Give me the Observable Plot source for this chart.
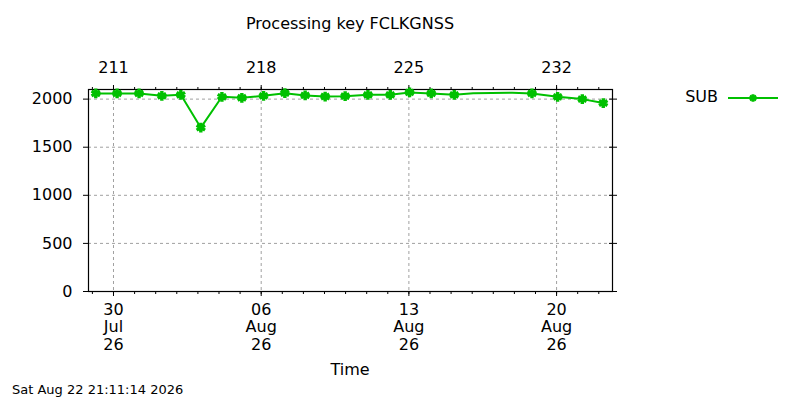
<!DOCTYPE html>
<html>
<head>
<meta charset="utf-8">
<script src="https://cdn.jsdelivr.net/npm/d3@7"></script>
<script src="https://cdn.jsdelivr.net/npm/@observablehq/plot@0.6"></script>
<style>
  body { margin: 0; background: #fff; font-family: "DejaVu Sans", sans-serif; }
  #wrap { position: relative; width: 800px; height: 400px; overflow: hidden; }
  .lbl { position: absolute; color: #000; white-space: nowrap; line-height: 1; }
</style>
</head>
<body>
<div id="wrap"></div>
<script>
// ---- data ----
const title = "Processing key FCLKGNSS";
const xLabel = "Time";
const stamp = "Sat Aug 22 21:11:14 2026";
const seriesName = "SUB";
const times = [
  "2026-07-29T03:50Z","2026-07-30T04:05Z","2026-07-31T05:05Z","2026-08-01T07:00Z",
  "2026-08-02T04:35Z","2026-08-03T03:20Z","2026-08-04T03:20Z","2026-08-05T02:00Z",
  "2026-08-06T02:40Z","2026-08-07T02:55Z","2026-08-08T02:00Z","2026-08-09T00:45Z",
  "2026-08-09T23:30Z","2026-08-11T01:25Z","2026-08-12T02:50Z","2026-08-13T00:45Z",
  "2026-08-14T01:25Z","2026-08-15T03:35Z","2026-08-16T01:10Z","2026-08-17T21:35Z",
  "2026-08-18T20:00Z","2026-08-20T01:10Z","2026-08-21T05:15Z","2026-08-22T05:05Z"
];
const values = [2059,2059,2059,2034,2045,1703,2024,2014,2034,2062,2038,2027,
                2031,2045,2045,2070,2059,2045,2060,2066,2059,2024,2000,1959];
const marked = [1,1,1,1,1,1,1,1,1,1,1,1,1,1,1,1,1,1,0,0,1,1,1,1];
const xDomain = ["2026-07-28T19:34Z", "2026-08-22T15:36Z"];
const yDomain = [0, 2100];
const yTicks = [0, 500, 1000, 1500, 2000];
const majorTicks = ["2026-07-30T00:00Z","2026-08-06T00:00Z","2026-08-13T00:00Z","2026-08-20T00:00Z"];
const topTickLabels = ["211", "218", "225", "232"];
const months = ["Jan","Feb","Mar","Apr","May","Jun","Jul","Aug","Sep","Oct","Nov","Dec"];

const color = "#00c000";
const gridColor = "#a0a0a0";
const fs = 16;

const data = times.map((t, i) => ({t: new Date(t), v: values[i], m: marked[i] === 1}));
const majors = majorTicks.map(d => new Date(d));
const xd = xDomain.map(d => new Date(d));
const minors = d3.utcDay.range(d3.utcDay.ceil(xd[0]), xd[1]);

const fmtBottom = d => `${String(d.getUTCDate()).padStart(2, "0")}\n${months[d.getUTCMonth()]}\n${String(d.getUTCFullYear() % 100).padStart(2, "0")}`;
const fmtTop = d => topTickLabels[majors.findIndex(m => +m === +d)];

const chart = Plot.plot({
  width: 800,
  height: 400,
  marginLeft: 88,
  marginRight: 188,
  marginTop: 89,
  marginBottom: 109,
  style: {fontFamily: "DejaVu Sans", fontSize: fs + "px", color: "#000", background: "#fff"},
  x: {type: "utc", domain: xd},
  y: {domain: yDomain},
  marks: [
    Plot.gridX(majors, {stroke: gridColor, strokeOpacity: 1, strokeDasharray: "3,3"}),
    Plot.gridY(yTicks.filter(v => v > 0), {stroke: gridColor, strokeOpacity: 1, strokeDasharray: "3,3"}),
    Plot.frame({stroke: "#000", strokeWidth: 1.2}),
    Plot.axisX(minors, {anchor: "bottom", tickSize: 3, tickFormat: () => "", label: null}),
    Plot.axisX(minors, {anchor: "top", tickSize: 3, tickFormat: () => "", label: null}),
    Plot.axisX(majors, {anchor: "bottom", tickSize: 5, tickPadding: 5.5, tickFormat: fmtBottom, lineHeight: 1.1, fontSize: fs, label: null}),
    Plot.axisX(majors, {anchor: "top", tickSize: 5, tickPadding: 12, tickFormat: fmtTop, fontSize: fs, label: null}),
    Plot.axisY(yTicks, {anchor: "left", tickSize: 5, tickPadding: 11, tickFormat: d => String(d), fontSize: fs, label: null}),
    Plot.axisY(yTicks, {anchor: "right", tickSize: 4, tickFormat: () => "", label: null}),
    Plot.axisY(yTicks, {anchor: "right", tickSize: -4, tickFormat: () => "", label: null}),
    Plot.line(data, {x: "t", y: "v", stroke: color, strokeWidth: 2}),
    Plot.dot(data.filter(d => d.m), {x: "t", y: "v", symbol: "asterisk", r: 4.6, stroke: color, strokeWidth: 3.4})
  ]
});

const wrap = document.getElementById("wrap");
chart.style.position = "absolute";
chart.style.left = "0";
chart.style.top = "0";
wrap.appendChild(chart);

function addLabel(text, css) {
  const el = document.createElement("div");
  el.className = "lbl";
  el.textContent = text;
  Object.assign(el.style, css);
  wrap.appendChild(el);
  return el;
}
addLabel(title, {left: "0px", width: "700px", textAlign: "center", top: "16px", fontSize: fs + "px"});
addLabel(xLabel, {left: "0px", width: "700px", textAlign: "center", top: "362px", fontSize: fs + "px"});
addLabel(stamp, {left: "12px", top: "383px", fontSize: "13px"});
addLabel(seriesName, {left: "600px", width: "118px", textAlign: "right", top: "89px", fontSize: fs + "px"});

// legend sample
const ns = "http://www.w3.org/2000/svg";
const lg = document.createElementNS(ns, "svg");
lg.setAttribute("width", "60");
lg.setAttribute("height", "20");
lg.style.position = "absolute";
lg.style.left = "726px";
lg.style.top = "88px";
const ln = document.createElementNS(ns, "line");
ln.setAttribute("x1", 2); ln.setAttribute("x2", 52);
ln.setAttribute("y1", 10); ln.setAttribute("y2", 10);
ln.setAttribute("stroke", color); ln.setAttribute("stroke-width", 2);
lg.appendChild(ln);
const mk = document.createElementNS(ns, "path");
mk.setAttribute("d", d3.symbol(d3.symbolAsterisk, 3.6 * 3.6 * Math.PI)());
mk.setAttribute("transform", "translate(27,10)");
mk.setAttribute("stroke", color); mk.setAttribute("stroke-width", 3); mk.setAttribute("fill", "none");
lg.appendChild(mk);
wrap.appendChild(lg);
</script>
</body>
</html>
